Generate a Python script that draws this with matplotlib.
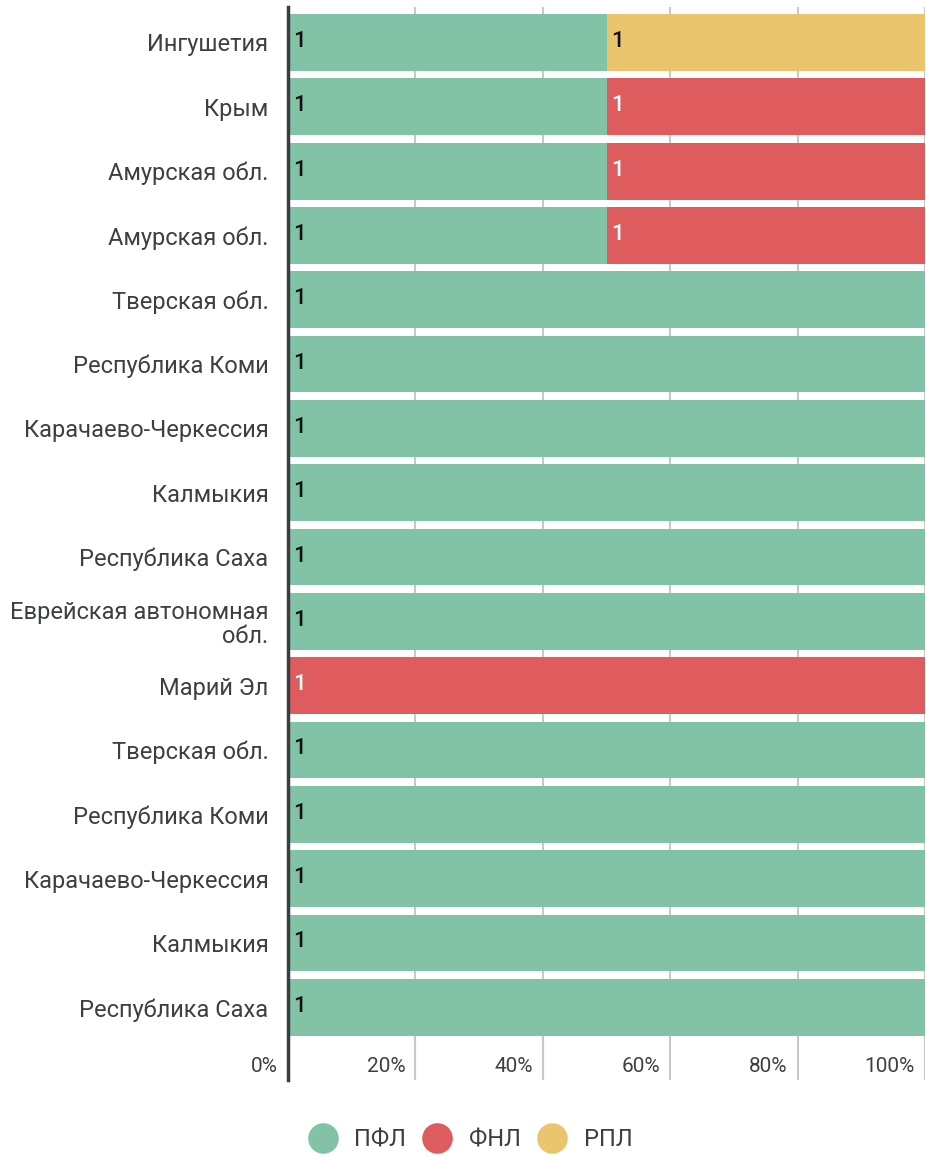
import matplotlib
matplotlib.use("Agg")
import matplotlib.pyplot as plt
from matplotlib.lines import Line2D
import numpy as np

plt.rcParams["font.family"] = ["Roboto", "DejaVu Sans"]

regions = [
    "Ингушетия", "Крым", "Амурская обл.", "Амурская обл.", "Тверская обл.",
    "Республика Коми", "Карачаево-Черкессия", "Калмыкия", "Республика Саха",
    "Еврейская автономная\nобл.", "Марий Эл", "Тверская обл.",
    "Республика Коми", "Карачаево-Черкессия", "Калмыкия", "Республика Саха",
]
series = ["ПФЛ", "ФНЛ", "РПЛ"]
pfl = [1, 1, 1, 1, 1, 1, 1, 1, 1, 1, 0, 1, 1, 1, 1, 1]
fnl = [0, 1, 1, 1, 0, 0, 0, 0, 0, 0, 1, 0, 0, 0, 0, 0]
rpl = [1, 0, 0, 0, 0, 0, 0, 0, 0, 0, 0, 0, 0, 0, 0, 0]
ticks = [0, 20, 40, 60, 80, 100]

colors = ["#82c3a8", "#de5b5e", "#eac56e"]
label_colors = ["#111111", "#ffffff", "#111111"]
text_col = "#3c4043"

fig = plt.figure(figsize=(9.26, 11.56), dpi=100)
ax = fig.add_axes([288 / 926, 1 - 1080 / 1156, 637 / 926, 1073 / 1156])

data = np.array([pfl, fnl, rpl], dtype=float)
totals = data.sum(axis=0)
pct = data / totals * 100
y = np.arange(len(regions))
left = np.zeros(len(regions))
for k, name in enumerate(series):
    ax.barh(y, pct[k], left=left, height=0.885, color=colors[k], zorder=2)
    for i in range(len(regions)):
        if data[k, i] > 0:
            ax.annotate(f"{int(data[k, i])}", (left[i], y[i]), xytext=(5, 1),
                        textcoords="offset pixels", ha="left", va="center",
                        fontsize=16, fontweight="medium", color=label_colors[k],
                        zorder=3)
    left += pct[k]

ax.set_xlim(0, 100)
ax.set_ylim(16.13, -0.55)
ax.set_yticks(y)
ax.set_yticklabels(regions, fontsize=17, color=text_col, ha="right",
                   multialignment="right", linespacing=1.05)
ax.tick_params(axis="y", length=0, pad=14)
ax.set_xticks(ticks)
ax.set_xticklabels([])
ax.tick_params(axis="x", length=0)
for t in ticks:
    ax.axvline(t, color="#c8c8c8", lw=1.5, zorder=0)
    ax.annotate(f"{t}%", (t, 0.013), xycoords=ax.get_xaxis_transform(),
                xytext=(-10, 0), textcoords="offset pixels",
                ha="right", va="center", fontsize=15, color=text_col)

for s in ["top", "right", "bottom"]:
    ax.spines[s].set_visible(False)
ax.spines["left"].set_color("#3a3d40")
ax.spines["left"].set_linewidth(2.5)
ax.spines["left"].set_zorder(4)

handles = [Line2D([], [], marker="o", linestyle="", markersize=21,
                  markerfacecolor=c, markeredgecolor=c) for c in colors]
fig.legend(handles, series, loc="center", bbox_to_anchor=(468 / 926, 1 - 1140 / 1156),
           ncol=3, frameon=False, fontsize=17, labelcolor=text_col,
           handletextpad=0.55, columnspacing=0.5, handlelength=1.6)

fig.savefig("out.png", dpi=100)
